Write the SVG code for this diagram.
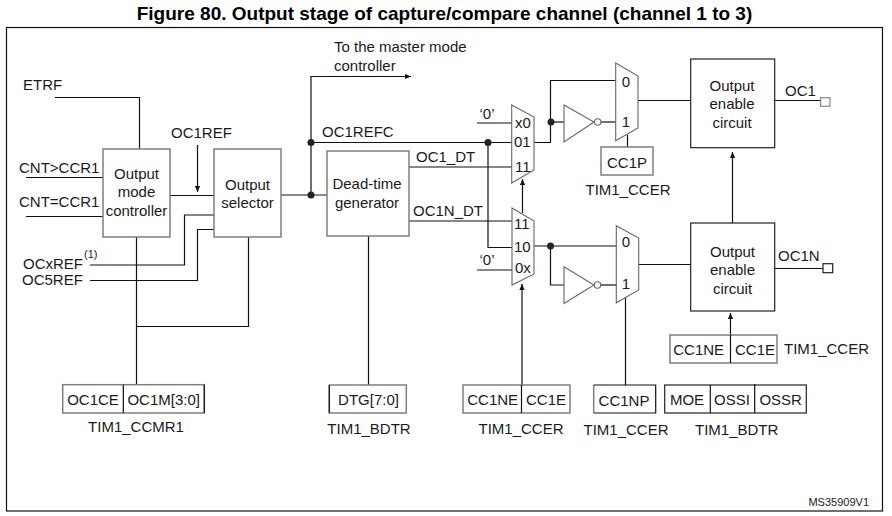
<svg xmlns="http://www.w3.org/2000/svg" width="892" height="516" viewBox="0 0 892 516">
<style>
text{font-family:"Liberation Sans",Arial,sans-serif;font-size:15px;fill:#1a1a1a}
.m{text-anchor:middle}
.title{font-size:19px;font-weight:bold;fill:#000}
.box{fill:#fff;stroke:#7f7f7f;stroke-width:1.5}
.blk{fill:#fff;stroke:#222;stroke-width:1.2}
.w{fill:none;stroke:#111;stroke-width:1.2}
.a{marker-end:url(#arr)}
.dot{fill:#222;stroke:none}
.shape{fill:#fff;stroke:#666;stroke-width:1.1}
</style>
<defs>
<marker id="arr" viewBox="0 0 6 6" refX="6" refY="3" markerWidth="6" markerHeight="6" markerUnits="userSpaceOnUse" orient="auto"><path d="M0 0.4L6 3L0 5.6Z" fill="#111"/></marker>
</defs>
<rect width="892" height="516" fill="#fff"/>
<text id="title" class="title m" x="444.500" y="20">Figure 80. Output stage of capture/compare channel (channel 1 to 3)</text>
<rect id="frame" x="6.500" y="27.500" width="876" height="483.500" fill="none" stroke="#111" stroke-width="1.2"/>
<g id="connectors">
<path class="w" d="M55 97.500H139.500V149"/>
<path class="w" d="M26 177.500H103"/>
<path class="w" d="M26 216.500H103"/>
<path class="w a" d="M197.500 145V192"/>
<path class="w" d="M170 195.500H214"/>
<path class="w" d="M281 195H327"/>
<path class="w a" d="M311 195V76.500H411"/>
<path class="w" d="M311 142.500H513"/>
<path class="w" d="M488 142.500V247.500H513"/>
<path class="w" d="M409 167H513"/>
<path class="w" d="M409 221H513"/>
<path class="w" d="M477 123H513"/>
<path class="w" d="M477 270H513"/>
<path class="w a" d="M522.500 213V179"/>
<path class="w a" d="M522 385V284"/>
<path class="w" d="M534 142.500H550.500V80.500H616"/>
<path class="w" d="M551 122H564"/>
<path class="w" d="M601 122H616"/>
<path class="w" d="M638 100.500H690.500"/>
<path class="w" d="M775 100.500H821"/>
<path class="w" d="M627.500 135V147"/>
<path class="w" d="M534 246H616"/>
<path class="w" d="M550.500 246V285H564"/>
<path class="w" d="M601 285H616"/>
<path class="w" d="M638.500 264.500H690.500"/>
<path class="w" d="M775 268.500H823"/>
<path class="w a" d="M732.500 223V152"/>
<path class="w a" d="M730.500 335V313"/>
<path class="w" d="M625.500 298V385"/>
<path class="w" d="M90 265H184.500V215H214"/>
<path class="w" d="M90 280.500H197.500V229.500H214"/>
<path class="w" d="M136.500 237V385"/>
<path class="w" d="M136.500 326.500H248.500V237"/>
<path class="w" d="M368.500 236V385"/>
<circle class="dot" cx="311" cy="142.500" r="3.500"/>
<circle class="dot" cx="311" cy="195" r="3.500"/>
<circle class="dot" cx="488" cy="142.500" r="3.500"/>
<circle class="dot" cx="551" cy="122" r="3.500"/>
<circle class="dot" cx="550.500" cy="246" r="3.500"/>
</g>
<g id="output-mode-controller"><rect class="box" x="103" y="149" width="67" height="88"/><text class="m" x="136.500" y="179">Output</text><text class="m" x="136.500" y="197">mode</text><text class="m" x="136.500" y="216">controller</text></g>
<g id="output-selector"><rect class="box" x="214" y="149" width="67" height="88"/><text class="m" x="247.500" y="190">Output</text><text class="m" x="247.500" y="208">selector</text></g>
<g id="dead-time-generator"><rect class="box" x="327" y="151" width="82" height="85"/><text class="m" x="367" y="189">Dead-time</text><text class="m" x="367" y="208">generator</text></g>
<g id="mux-1"><path class="shape" d="M511.700 105L534 117V170L511.700 183Z"/><text x="515" y="128">x0</text><text x="514" y="147">01</text><text x="515" y="172">11</text></g>
<g id="mux-2"><path class="shape" d="M512 208L534 221V274L512 285Z"/><text x="514" y="229">11</text><text x="514" y="252">10</text><text x="515" y="273">0x</text></g>
<g id="mux-3"><path class="shape" d="M615.700 63L638 76V128L615.700 140.700Z"/><text class="m" x="626" y="87">0</text><text class="m" x="626" y="127">1</text></g>
<g id="mux-4"><path class="shape" d="M616.300 225.700L638.700 238V290L616.300 302.700Z"/><text class="m" x="626" y="247">0</text><text class="m" x="626" y="289">1</text></g>
<g id="inverter-1"><path class="shape" d="M564 105V142L594 122Z"/><circle class="shape" cx="597.700" cy="122" r="3.200"/></g>
<g id="inverter-2"><path class="shape" d="M564 266.700V303.500L594 285Z"/><circle class="shape" cx="597.500" cy="285" r="3.200"/></g>
<g id="output-enable-1"><rect class="blk" x="690.700" y="59" width="84" height="88.700"/><text class="m" x="732" y="91">Output</text><text class="m" x="732" y="109">enable</text><text class="m" x="732" y="128">circuit</text></g>
<g id="output-enable-2"><rect class="blk" x="690.700" y="223" width="84" height="88"/><text class="m" x="732.500" y="257">Output</text><text class="m" x="732.500" y="275">enable</text><text class="m" x="732.500" y="294">circuit</text></g>
<g id="pin-oc1"><rect class="box" style="stroke-width:1.1" x="820.700" y="97.700" width="9.300" height="8.600"/><text x="785" y="96">OC1</text></g>
<g id="pin-oc1n"><rect class="blk" x="823" y="263.700" width="9.700" height="9"/><text x="778" y="261">OC1N</text></g>
<g id="reg-cc1p"><rect class="box" x="601" y="147" width="52" height="28"/><text class="m" x="627" y="168">CC1P</text><text class="m" x="628" y="195">TIM1_CCER</text></g>
<g id="reg-ccmr1"><rect class="box" x="62.700" y="384.700" width="141.600" height="28.300"/><path class="w" d="M123.300 384.700V413M204.300 384.700V413"/><text class="m" x="93" y="405">OC1CE</text><text class="m" x="163.700" y="405">OC1M[3:0]</text><text class="m" x="136" y="432">TIM1_CCMR1</text></g>
<g id="reg-dtg"><rect class="box" x="329.300" y="385" width="77" height="28"/><path class="w" d="M329.300 385V413"/><text class="m" x="368.500" y="405">DTG[7:0]</text><text class="m" x="369" y="434">TIM1_BDTR</text></g>
<g id="reg-ccer-upper"><rect class="box" x="670" y="335" width="107" height="28"/><path class="w" d="M730.500 335V363"/><text class="m" x="698.700" y="355">CC1NE</text><text class="m" x="755" y="355">CC1E</text><text x="784" y="354">TIM1_CCER</text></g>
<g id="reg-ccer-lower"><rect class="box" x="463" y="385" width="107" height="28"/><path class="w" d="M521.500 385V413"/><text class="m" x="492.700" y="405">CC1NE</text><text class="m" x="546" y="405">CC1E</text><text class="m" x="521" y="434">TIM1_CCER</text></g>
<g id="reg-cc1np"><rect x="593.700" y="385" width="62" height="28" fill="#fff"/><path class="w" style="stroke:#7f7f7f;stroke-width:1.5" d="M593.700 385V413"/><path class="w" d="M593.700 385H655.700V413H593.700"/><text class="m" x="624" y="406">CC1NP</text><text class="m" x="626" y="435">TIM1_CCER</text></g>
<g id="reg-bdtr"><rect class="blk" x="664.700" y="385" width="141.600" height="28"/><path class="w" d="M710.300 385V413M754.700 384V413"/><text class="m" x="687" y="405">MOE</text><text class="m" x="732" y="405">OSSI</text><text class="m" x="780.700" y="405">OSSR</text><text class="m" x="736.700" y="435">TIM1_BDTR</text></g>
<g id="labels">
<text x="23" y="90">ETRF</text>
<text x="171" y="138">OC1REF</text>
<text x="19" y="173">CNT&gt;CCR1</text>
<text x="19" y="207">CNT=CCR1</text>
<text x="23" y="269">OCxREF</text>
<text x="84" y="258" style="font-size:11px">(1)</text>
<text x="22" y="285">OC5REF</text>
<text x="334" y="52">To the master mode</text>
<text x="334" y="71">controller</text>
<text x="322" y="137">OC1REFC</text>
<text x="416" y="162">OC1_DT</text>
<text x="413" y="216">OC1N_DT</text>
<text class="m" x="487" y="119">‘0’</text>
<text class="m" x="487" y="265">‘0’</text>
<text x="869" y="506" style="font-size:11px;text-anchor:end">MS35909V1</text>
</g>
</svg>
